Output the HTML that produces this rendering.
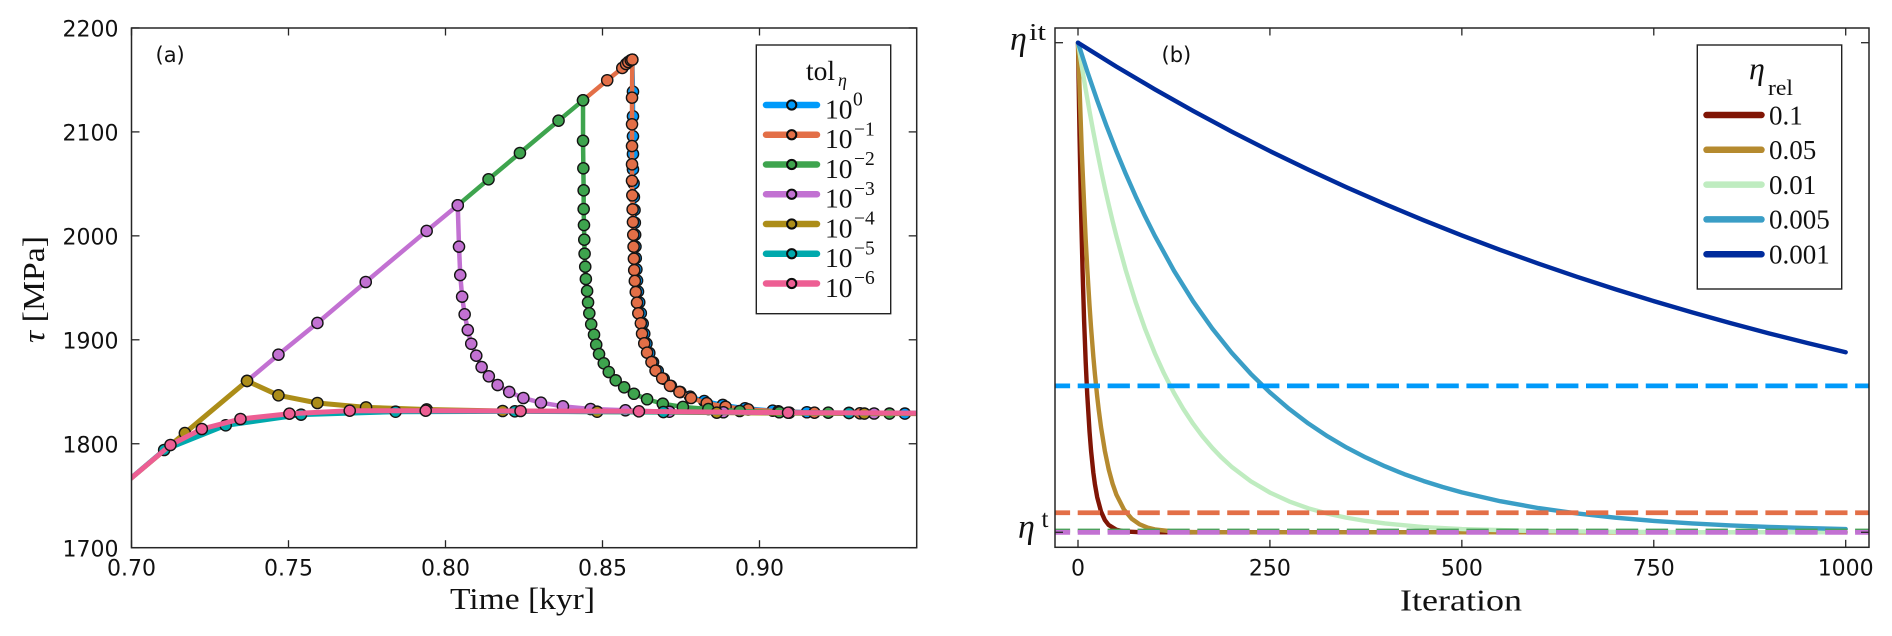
<!DOCTYPE html>
<html lang="en">
<head>
<meta charset="utf-8">
<title>Stress and relaxation charts</title>
<style>
html,body{margin:0;padding:0;background:#fff;}
svg{display:block;}
.tick{font-family:"DejaVu Sans",sans-serif;font-size:22px;fill:#111;}
.math{font-family:"Liberation Serif",serif;fill:#111;}
</style>
</head>
<body>
<svg id="fig" xmlns="http://www.w3.org/2000/svg" width="1892" height="636" viewBox="0 0 1892 636">
  <defs>
    <clipPath id="clipA"><rect x="131.5" y="28" width="785.2" height="519.7"/></clipPath>
    <clipPath id="clipB"><rect x="1055" y="28" width="814" height="519.3"/></clipPath>
  </defs>
  <rect x="0" y="0" width="1892" height="636" fill="#fff"/>
  <g id="panelA"></g>
  <g id="panelB"></g>

  <text class="tick" x="155.5" y="62" style="font-size:21px">(a)</text>
  <text class="tick" x="1161.5" y="62" style="font-size:21px">(b)</text>

  <text class="math" x="450" y="609" font-size="31" textLength="145" lengthAdjust="spacingAndGlyphs">Time [kyr]</text>
  <text class="math" transform="translate(44,289.5) rotate(-90)" text-anchor="middle" font-size="31" textLength="107" lengthAdjust="spacingAndGlyphs"><tspan font-style="italic">τ</tspan> [MPa]</text>
  <text class="math" x="1400" y="610.5" font-size="31" textLength="122" lengthAdjust="spacingAndGlyphs">Iteration</text>

  <text class="math" x="1010" y="50" font-size="34" font-style="italic">η</text>
  <text class="math" x="1029" y="40" font-size="24" textLength="17" lengthAdjust="spacingAndGlyphs">it</text>
  <text class="math" x="1018" y="538" font-size="34" font-style="italic">η</text>
  <text class="math" x="1041.5" y="527" font-size="25">t</text>

  <g id="legendA">
    <rect x="756.3" y="45" width="134.4" height="268.7" fill="#fff" stroke="#222" stroke-width="1.4"/>
    <text class="math" x="806" y="80" font-size="27.5">tol</text>
    <text class="math" x="838" y="86" font-size="18" font-style="italic">η</text>
  </g>
  <g id="legendB">
    <rect x="1697.3" y="45" width="144.4" height="244" fill="#fff" stroke="#222" stroke-width="1.4"/>
    <text class="math" x="1749" y="79" font-size="32" font-style="italic">η</text>
    <text class="math" x="1768" y="95" font-size="22" textLength="25" lengthAdjust="spacingAndGlyphs">rel</text>
  </g>
</svg>
<script>
// ---------- Panel (a) data ----------
const aXTickValues = [0.70, 0.75, 0.80, 0.85, 0.90];
const aYTickValues = [1700, 1800, 1900, 2000, 2100, 2200];

const tol0Time = [0.8595,0.8597,0.8597,0.8597,0.8597,0.8597,0.8599,0.8600,0.8602,0.8603,0.8604,0.8605,0.8606,0.8608,0.8610,0.8613,0.8617,0.8622,0.8628,0.8633,0.8640,0.8649,0.8661,0.8676,0.8695,0.8718,0.8748,0.8779,0.8824,0.8883,0.8954,0.9042,0.9151,0.9285,0.9463,1.0];
const tol0Tau = [2169.5,2138.7,2115,2095.8,2078.8,2064,2050.5,2037.4,2024.9,2012.6,2001,1989.7,1978.6,1967.7,1957,1946.4,1936,1925.6,1915.6,1905.8,1896.4,1887.3,1878.4,1870,1862.5,1855.6,1849.7,1845.3,1841.1,1837.3,1834.1,1831.8,1830.3,1829.6,1829,1829];

const tol1Time = [0.8438,0.8515,0.8563,0.8575,0.8582,0.8590,0.8595,0.8594,0.8594,0.8594,0.8594,0.8594,0.8595,0.8596,0.8597,0.8598,0.8599,0.8600,0.8601,0.8603,0.8606,0.8610,0.8614,0.8622,0.8626,0.8633,0.8642,0.8656,0.8669,0.8690,0.8715,0.8745,0.8782,0.8832,0.8892,0.8964,0.9060,0.9175,0.9320,1.0];
const tol1Tau = [2130.4,2149.7,2161.5,2165.3,2167.2,2168.9,2169.5,2132.9,2107.3,2086.4,2068.8,2053,2039,2025.5,2013.3,2001,1989.6,1978,1967,1956.6,1946,1935.7,1925.5,1915.9,1905.9,1896.6,1887.6,1878.6,1870.3,1863,1855.8,1849.8,1844,1839,1835.6,1833,1831.2,1829.9,1829.3,1829];

const tol2Time = [0.8039,0.8137,0.8237,0.8360,0.8438,0.8438,0.8439,0.8440,0.8440,0.8441,0.8442,0.8443,0.8445,0.8447,0.8451,0.8454,0.8458,0.8464,0.8473,0.8480,0.8489,0.8504,0.8520,0.8542,0.8569,0.8600,0.8642,0.8692,0.8756,0.8837,0.8937,0.9063,0.9219,0.9414,1.0];
const tol2Tau = [2029.4,2054.4,2079.7,2110.8,2130.4,2091.5,2065,2043.8,2025.8,2010.4,1996.3,1982.8,1970.3,1958.5,1947,1936,1925.5,1914.9,1904.9,1895.3,1886.3,1877.4,1869,1861,1854.3,1848.1,1842.8,1838.5,1835.4,1833.4,1831.5,1830.3,1829.9,1829,1829];

const tol3Time = [0.7368,0.7468,0.7592,0.7746,0.7940,0.8039,0.8043,0.8047,0.8053,0.8061,0.8071,0.8082,0.8098,0.8115,0.8138,0.8166,0.8203,0.8248,0.8304,0.8374,0.8462,0.8573,0.8713,0.8885,0.9095,0.9365,1.0];
const tol3Tau = [1860.4,1885.7,1916.2,1955.6,2004.7,2029.4,1989.6,1962.3,1941.5,1924.5,1909.4,1896.2,1884.7,1873.8,1864.9,1856.5,1849.8,1844,1839.5,1836,1833.4,1832.2,1830.8,1830.3,1829.9,1829.1,1829];

const tol4Time = [0.696,0.7170,0.7368,0.7468,0.7592,0.7747,0.7940,0.8182,0.8483,0.8864,0.9334,1.0];
const tol4Tau = [1757,1810.3,1860.4,1846.6,1839.2,1835,1833,1831.5,1830.8,1829.9,1829,1829];

const tol5Time = [0.696,0.7104,0.7300,0.7540,0.7841,0.8221,0.8694,0.9285,1.0];
const tol5Tau = [1757,1794,1817.7,1828,1830.8,1831.2,1830.5,1829.6,1829];

const tol6Time = [0.696,0.7124,0.7224,0.7347,0.7503,0.7695,0.7937,0.8239,0.8616,0.9091,1.0];
const tol6Tau = [1757,1798.8,1814.2,1823.8,1828.9,1831.8,1831.8,1831.5,1831.2,1829.9,1829];

const tolLabels = ["0","−1","−2","−3","−4","−5","−6"];

// ---------- Panel (b) data ----------
const bXTickValues = [0, 250, 500, 750, 1000];

const rel01Iter = [0,2,4,6,8,10,12,15,17,20,22,25,30,35,40,50,60,80,100,1000];
const rel01Eta = [1,0.81,0.6561,0.5314,0.4305,0.3487,0.2824,0.2059,0.1668,0.1216,0.0985,0.0718,0.0424,0.025,0.0148,0.0052,0.0018,0.0002,0,0];

const rel005Iter = [0,5,10,12,15,17,20,22,25,27,30,35,40,45,50,60,70,80,90,100,125,150,200,1000];
const rel005Eta = [1,0.7738,0.5987,0.5404,0.4633,0.4181,0.3585,0.3235,0.2774,0.2503,0.2146,0.166,0.1285,0.0994,0.0769,0.0461,0.0276,0.0165,0.0099,0.0059,0.0016,0.0005,0,0];

const rel001Iter = [0,5,10,15,20,25,30,35,40,45,50,62,75,87,100,112,125,137,150,162,175,187,200,225,250,275,300,325,350,375,400,450,500,600,700,800,900,1000];
const rel001Eta = [1,0.951,0.9044,0.86,0.8179,0.7778,0.7397,0.7034,0.669,0.6361,0.605,0.5363,0.4706,0.417,0.366,0.3245,0.2847,0.2523,0.2215,0.1963,0.1723,0.1527,0.134,0.1042,0.0811,0.0631,0.049,0.0381,0.0297,0.0231,0.018,0.0108,0.0066,0.0024,0.0009,0.0003,0.0001,0];

const rel0005Iter = [0,12,25,37,50,62,75,87,100,125,150,175,200,225,250,275,300,325,350,375,400,425,450,475,500,550,600,650,700,750,800,850,900,950,1000];
const rel0005Eta = [1,0.9416,0.8822,0.8307,0.7783,0.7329,0.6866,0.6465,0.6058,0.5344,0.4715,0.416,0.367,0.3238,0.2856,0.252,0.2223,0.1961,0.173,0.1527,0.1347,0.1188,0.1048,0.0925,0.0816,0.0635,0.0494,0.0385,0.0299,0.0233,0.0181,0.0141,0.011,0.0086,0.0066];

const rel0001Iter = [0,50,100,150,200,250,300,350,400,450,500,550,600,650,700,750,800,850,900,950,1000];
const rel0001Eta = [1,0.9512,0.9048,0.8607,0.8186,0.7786,0.7407,0.7046,0.6702,0.6375,0.6064,0.5768,0.5486,0.5219,0.4964,0.4722,0.4491,0.4273,0.4064,0.3866,0.3677];

const targetEtaValues = [0.299, 0.04, 0.0033, 0];
const relLabels = ["0.1","0.05","0.01","0.005","0.001"];

// ---------- Axis functions ----------
function xA(v){ return 131.5 + (v - 0.70) * 3140; }
function yA(v){ return 547.7 - (v - 1700) * 1.0395; }
function xB(v){ return 1078 + v * 0.7677; }
function yB(v){ return 532.3 - v * 489.6; }

const NS = "http://www.w3.org/2000/svg";
function mk(parent, tag, attrs, text){
  const el = document.createElementNS(NS, tag);
  for (const k in attrs) el.setAttribute(k, attrs[k]);
  if (text !== undefined) el.textContent = text;
  parent.appendChild(el);
  return el;
}
function pathFrom(xs, ys, fx, fy){
  let d = "";
  for (let i = 0; i < xs.length; i++) d += (i ? "L" : "M") + fx(xs[i]).toFixed(2) + " " + fy(ys[i]).toFixed(2);
  return d;
}

const panelA = document.getElementById("panelA");
const panelB = document.getElementById("panelB");
const legendA = document.getElementById("legendA");
const legendB = document.getElementById("legendB");
const frameColor = "#262626";

// ---------- Panel (a) series ----------
const aColors = ["#009AFA","#E36F47","#3EA44E","#C271D2","#AC8D18","#00A9AD","#ED5E93"];
const aTimes = [tol0Time,tol1Time,tol2Time,tol3Time,tol4Time,tol5Time,tol6Time];
const aTaus = [tol0Tau,tol1Tau,tol2Tau,tol3Tau,tol4Tau,tol5Tau,tol6Tau];

const aClip = mk(panelA, "g", {"clip-path":"url(#clipA)"});


aTimes.forEach(function(times, s){
  const group = mk(aClip, "g", {});
  
  
  const line = mk(group, "path", {d:pathFrom(times, aTaus[s], xA, yA), fill:"none", stroke:aColors[s], "stroke-width":s >= 4 ? 5 : 4.5, "stroke-linejoin":"round"});
  
  
  times.forEach(function(t, i){
    const pt = mk(group, "circle", {cx:xA(t).toFixed(2), cy:yA(aTaus[s][i]).toFixed(2), r:5.6, fill:aColors[s], stroke:"#141414", "stroke-width":1.4});
    
    
  });
});

// ---------- Panel (b) series ----------
const bColors = ["#801505","#B58A2F","#BFECC0","#3A9EC6","#002B9C"];
const bIters = [rel01Iter,rel005Iter,rel001Iter,rel0005Iter,rel0001Iter];
const bEtas = [rel01Eta,rel005Eta,rel001Eta,rel0005Eta,rel0001Eta];
const targetColors = ["#009AFA","#E36F47","#3EA44E","#C271D2"];

const bClip = mk(panelB, "g", {"clip-path":"url(#clipB)"});


bIters.forEach(function(iters, s){
  const line = mk(bClip, "path", {d:pathFrom(iters, bEtas[s], xB, yB), fill:"none", stroke:bColors[s], "stroke-width":4.4, "stroke-linejoin":"round", "stroke-linecap":"round"});
  
  
});
targetEtaValues.forEach(function(v, s){
  const line = mk(bClip, "line", {x1:1055, x2:1869, y1:yB(v).toFixed(2), y2:yB(v).toFixed(2), stroke:targetColors[s], "stroke-width":s === 2 ? 4 : 4.8, "stroke-dasharray":"22.3 7.6", "stroke-dashoffset":7.2});
  
  
});

// ---------- Frames and ticks ----------
function frame(parent, l, t, r, b, name){
  const rect = mk(parent, "rect", {x:l, y:t, width:r - l, height:b - t, fill:"none", stroke:frameColor, "stroke-width":1.5});
  
  
}
function xTick(parent, x, top, bottom, label){
  const a = mk(parent, "line", {x1:x, x2:x, y1:bottom, y2:bottom - 7.5, stroke:frameColor, "stroke-width":1.3});
  
  
  const c = mk(parent, "line", {x1:x, x2:x, y1:top, y2:top + 7.5, stroke:frameColor, "stroke-width":1.3});
  
  
  const t = mk(parent, "text", {class:"tick", x:x, y:575.7, "text-anchor":"middle"}, label);
  
  
}
function yTick(parent, y, left, right){
  const a = mk(parent, "line", {x1:left, x2:left + 8, y1:y, y2:y, stroke:frameColor, "stroke-width":1.3});
  
  
  const c = mk(parent, "line", {x1:right, x2:right - 8, y1:y, y2:y, stroke:frameColor, "stroke-width":1.3});
  
  
}

frame(panelA, 131.5, 28, 916.7, 547.7, 'plot-frame-a');
aXTickValues.forEach(function(v){ xTick(panelA, xA(v).toFixed(2), 28, 547.7, v.toFixed(2)); });
aYTickValues.forEach(function(v){
  yTick(panelA, yA(v).toFixed(2), 131.5, 916.7);
  const t = mk(panelA, "text", {class:"tick", x:118.5, y:(yA(v) + 8.6).toFixed(2), "text-anchor":"end"}, String(v));
  
  
});

frame(panelB, 1055, 28, 1869, 547.3, 'plot-frame-b');
bXTickValues.forEach(function(v){ xTick(panelB, xB(v).toFixed(2), 28, 547.3, String(v)); });
yTick(panelB, yB(1).toFixed(2), 1055, 1869);
yTick(panelB, yB(0).toFixed(2), 1055, 1869);

// ---------- Legends ----------
tolLabels.forEach(function(label, i){
  const rowY = 105 + i * 29.75;
  const row = mk(legendA, "g", {});
  
  
  const sw = mk(row, "line", {x1:766, x2:817, y1:rowY, y2:rowY, stroke:aColors[i], "stroke-width":6.5, "stroke-linecap":"round"});
  
  
  const mkr = mk(row, "circle", {cx:791.7, cy:rowY, r:4.6, fill:aColors[i], stroke:"#0c0c0c", "stroke-width":2});
  
  
  const base = mk(row, "text", {class:"math", x:825, y:rowY + 13.3, "font-size":27.5}, "10");
  
  
  const sup = mk(row, "text", {class:"math", x:i === 0 ? 853 : 854, y:rowY + 0.5, "font-size":19.5}, label);
  
  
});

relLabels.forEach(function(label, i){
  const rowY = 115 + i * 34.8;
  const row = mk(legendB, "g", {});
  
  
  const sw = mk(row, "line", {x1:1706.5, x2:1761.5, y1:rowY, y2:rowY, stroke:bColors[i], "stroke-width":6.5, "stroke-linecap":"round"});
  
  
  const t = mk(row, "text", {class:"math", x:1769, y:rowY + 9.3, "font-size":27}, label);
  
  
});
</script>
</body>
</html>
